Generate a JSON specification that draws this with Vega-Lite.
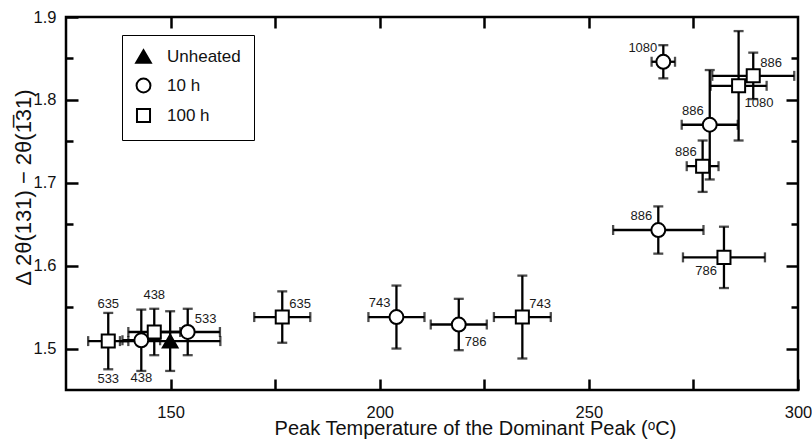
{
  "$schema": "https://vega.github.io/schema/vega-lite/v6.json",
  "width": 732,
  "height": 373,
  "autosize": {"type": "none"},
  "padding": {"left": 66, "top": 17, "right": 14, "bottom": 52},
  "background": "white",
  "config": {
    "view": {"stroke": "black", "strokeWidth": 2.5},
    "font": "Liberation Sans",
    "axis": {
      "domain": false, "ticks": true, "tickColor": "black", "tickWidth": 2.5,
      "grid": false, "labelFont": "Liberation Sans", "labelFontSize": 16.5, "labelColor": "#111",
      "titleFont": "Liberation Sans", "titleFontSize": 20, "titleFontWeight": "normal", "titleColor": "#111",
      "labelFlush": false, "labelOverlap": false
    }
  },
  "datasets": {
    "pts": [
      {"s": "100 h", "x": 135.1, "y": 1.509, "xe": 4.8, "ye": 0.034},
      {"s": "100 h", "x": 146.1, "y": 1.520, "xe": 6.2, "ye": 0.028},
      {"s": "100 h", "x": 176.7, "y": 1.538, "xe": 6.7, "ye": 0.031},
      {"s": "100 h", "x": 234.1, "y": 1.538, "xe": 6.8, "ye": 0.050},
      {"s": "100 h", "x": 282.3, "y": 1.610, "xe": 9.8, "ye": 0.037},
      {"s": "100 h", "x": 277.2, "y": 1.720, "xe": 3.8, "ye": 0.031},
      {"s": "100 h", "x": 285.8, "y": 1.817, "xe": 6.7, "ye": 0.066},
      {"s": "100 h", "x": 289.3, "y": 1.829, "xe": 9.8, "ye": 0.028},
      {"s": "10 h", "x": 143.0, "y": 1.510, "xe": 4.5, "ye": 0.037},
      {"s": "10 h", "x": 154.1, "y": 1.520, "xe": 7.7, "ye": 0.028},
      {"s": "10 h", "x": 204.0, "y": 1.538, "xe": 6.7, "ye": 0.038},
      {"s": "10 h", "x": 218.9, "y": 1.529, "xe": 6.7, "ye": 0.031},
      {"s": "10 h", "x": 266.6, "y": 1.643, "xe": 10.8, "ye": 0.0285},
      {"s": "10 h", "x": 278.9, "y": 1.770, "xe": 6.7, "ye": 0.066},
      {"s": "10 h", "x": 267.8, "y": 1.846, "xe": 2.8, "ye": 0.02},
      {"s": "Unheated", "x": 149.9, "y": 1.509, "xe": 12, "ye": 0.036}
    ],
    "labels": [
      {"x": 135.1, "y": 1.509, "lab": "635", "pos": "above"},
      {"x": 135.1, "y": 1.509, "lab": "533", "pos": "below"},
      {"x": 146.1, "y": 1.520, "lab": "438", "pos": "above"},
      {"x": 143.0, "y": 1.510, "lab": "438", "pos": "below"},
      {"x": 154.1, "y": 1.520, "lab": "533", "pos": "ur"},
      {"x": 176.7, "y": 1.538, "lab": "635", "pos": "ur"},
      {"x": 204.0, "y": 1.538, "lab": "743", "pos": "ul"},
      {"x": 218.9, "y": 1.529, "lab": "786", "pos": "lr"},
      {"x": 234.1, "y": 1.538, "lab": "743", "pos": "ur"},
      {"x": 266.6, "y": 1.643, "lab": "886", "pos": "ul"},
      {"x": 282.3, "y": 1.610, "lab": "786", "pos": "ll"},
      {"x": 277.2, "y": 1.720, "lab": "886", "pos": "ul"},
      {"x": 278.9, "y": 1.770, "lab": "886", "pos": "ul"},
      {"x": 285.8, "y": 1.817, "lab": "1080", "pos": "lr"},
      {"x": 289.3, "y": 1.829, "lab": "886", "pos": "ur"},
      {"x": 267.8, "y": 1.846, "lab": "1080", "pos": "ul"}
    ]
  },
  "layer": [
    {
      "encoding": {
        "x": {
          "field": "x", "type": "quantitative",
          "scale": {"domain": [125, 300], "nice": false, "zero": false},
          "axis": {
            "values": [150, 175, 200, 225, 250, 275, 300],
            "labelExpr": "datum.value % 50 === 0 ? datum.label : ''",
            "offset": -11, "tickSize": 11, "labelPadding": 14,
            "title": "Peak Temperature of the Dominant Peak (ᵒC)",
            "titleX": 409, "titleY": 55, "titleBaseline": "alphabetic", "titleAlign": "center"
          }
        },
        "y": {
          "field": "y", "type": "quantitative",
          "scale": {"domain": [1.45, 1.9], "nice": false, "zero": false},
          "axis": {
            "values": [1.5, 1.55, 1.6, 1.65, 1.7, 1.75, 1.8, 1.85, 1.9],
            "labelExpr": "abs(datum.value*10 - round(datum.value*10)) < 0.01 ? format(datum.value, '.1f') : ''",
            "offset": -12, "tickSize": 12, "labelPadding": 10,
            "tickDash": {"condition": {"test": "abs(datum.value*10 - round(datum.value*10)) > 0.01", "value": [0, 5, 7, 100]}, "value": []},
            "title": "Δ 2θ(131) − 2θ(1̅31)",
            "titleFontSize": 22,
            "titleX": -48, "titleY": 170, "titleAngle": 270, "titleBaseline": "alphabetic", "titleAlign": "center"
          }
        }
      },
      "layer": [
        {
          "data": {"name": "pts"},
          "mark": {"type": "errorbar", "ticks": {"size": 10, "thickness": 2.3, "color": "black"}, "thickness": 2.3, "color": "black"},
          "encoding": {"yError": {"field": "ye"}}
        },
        {
          "data": {"name": "pts"},
          "mark": {"type": "errorbar", "ticks": {"size": 10, "thickness": 2.3, "color": "black"}, "thickness": 2.3, "color": "black"},
          "encoding": {"xError": {"field": "xe"}}
        },
        {
          "data": {"name": "pts"},
          "mark": {"type": "point", "stroke": "black", "strokeWidth": 2, "opacity": 1, "fillOpacity": 1},
          "encoding": {
            "shape": {
              "field": "s", "type": "nominal",
              "scale": {"domain": ["Unheated", "10 h", "100 h"], "range": ["triangle-up", "circle", "square"]},
              "legend": {
                "title": null, "orient": "none", "legendX": 56, "legendY": 18,
                "strokeColor": "black", "padding": 13, "rowPadding": 7, "labelOffset": 15,
                "labelFontSize": 17, "labelFont": "Liberation Sans", "labelColor": "#111",
                "symbolStrokeColor": "black", "symbolStrokeWidth": 2,
                "encode": {"legend": {"update": {"strokeWidth": {"value": 2.5}}}}
              }
            },
            "fill": {
              "field": "s", "type": "nominal",
              "scale": {"domain": ["Unheated", "10 h", "100 h"], "range": ["black", "white", "white"]}
            },
            "size": {
              "field": "s", "type": "nominal",
              "scale": {"domain": ["Unheated", "10 h", "100 h"], "range": [216, 170, 150]}
            }
          }
        },
        {
          "data": {"name": "labels"},
          "transform": [{"filter": "datum.pos === 'above'"}],
          "mark": {"type": "text", "fontSize": 13, "font": "Liberation Sans", "color": "#1a1a1a", "align": "center", "baseline": "middle", "dy": -37},
          "encoding": {"text": {"field": "lab"}}
        },
        {
          "data": {"name": "labels"},
          "transform": [{"filter": "datum.pos === 'below'"}],
          "mark": {"type": "text", "fontSize": 13, "font": "Liberation Sans", "color": "#1a1a1a", "align": "center", "baseline": "middle", "dy": 38},
          "encoding": {"text": {"field": "lab"}}
        },
        {
          "data": {"name": "labels"},
          "transform": [{"filter": "datum.pos === 'ur'"}],
          "mark": {"type": "text", "fontSize": 13, "font": "Liberation Sans", "color": "#1a1a1a", "align": "left", "baseline": "middle", "dx": 7, "dy": -13},
          "encoding": {"text": {"field": "lab"}}
        },
        {
          "data": {"name": "labels"},
          "transform": [{"filter": "datum.pos === 'ul'"}],
          "mark": {"type": "text", "fontSize": 13, "font": "Liberation Sans", "color": "#1a1a1a", "align": "right", "baseline": "middle", "dx": -6, "dy": -14},
          "encoding": {"text": {"field": "lab"}}
        },
        {
          "data": {"name": "labels"},
          "transform": [{"filter": "datum.pos === 'lr'"}],
          "mark": {"type": "text", "fontSize": 13, "font": "Liberation Sans", "color": "#1a1a1a", "align": "left", "baseline": "middle", "dx": 6, "dy": 17},
          "encoding": {"text": {"field": "lab"}}
        },
        {
          "data": {"name": "labels"},
          "transform": [{"filter": "datum.pos === 'll'"}],
          "mark": {"type": "text", "fontSize": 13, "font": "Liberation Sans", "color": "#1a1a1a", "align": "right", "baseline": "middle", "dx": -7, "dy": 14},
          "encoding": {"text": {"field": "lab"}}
        }
      ]
    },
    {
      "data": {"name": "pts"},
      "mark": {"type": "point", "opacity": 0},
      "encoding": {
        "x": {
          "field": "x", "type": "quantitative",
          "scale": {"domain": [125, 300], "nice": false, "zero": false},
          "axis": {"orient": "top", "values": [150, 175, 200, 225, 250, 275], "labels": false, "title": null, "offset": -11, "tickSize": 11}
        },
        "y": {
          "field": "y", "type": "quantitative",
          "scale": {"domain": [1.45, 1.9], "nice": false, "zero": false},
          "axis": {
            "orient": "right", "values": [1.5, 1.55, 1.6, 1.65, 1.7, 1.75, 1.8, 1.85], "labels": false, "title": null,
            "offset": -12, "tickSize": 12,
            "tickDash": {"condition": {"test": "abs(datum.value*10 - round(datum.value*10)) > 0.01", "value": [0, 5, 7, 100]}, "value": []}
          }
        }
      }
    }
  ],
  "resolve": {"axis": {"x": "independent", "y": "independent"}}
}
